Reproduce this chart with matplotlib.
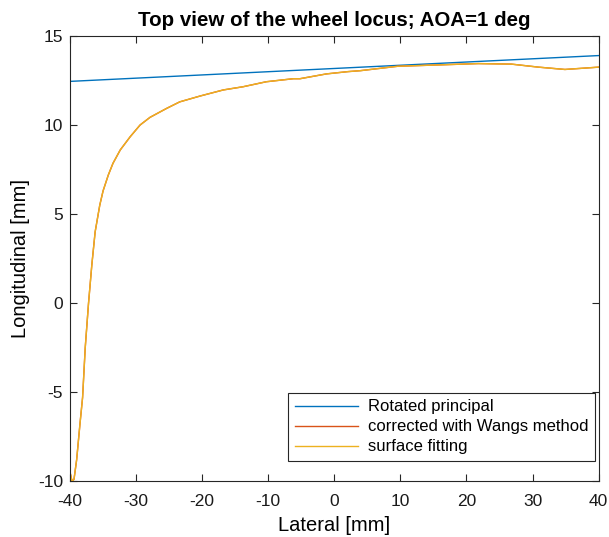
import matplotlib
matplotlib.use("Agg")
import matplotlib.pyplot as plt

plt.rcParams['font.family'] = ['Liberation Sans', 'DejaVu Sans']
plt.rcParams['axes.unicode_minus'] = False

# Rotated principal (straight line)
rot_x = [-40, 40]
rot_y = [12.45, 13.9]

# Corrected (Wang) / surface fitting curves (nearly identical)
cur_x = [-40.0, -39.7, -39.4, -39.0, -38.5, -38.1, -37.7, -37.2, -36.7, -36.2,
         -35.5, -35.0, -34.2, -33.5, -32.4, -30.9, -29.4, -27.9, -25.4, -23.4,
         -20.3, -16.8, -13.8, -10.3, -6.2, -5.2, -1.2, 2.1, 3.9, 9.6,
         16.2, 21.8, 26.8, 30.9, 34.9, 40.0]
cur_y = [-9.5, -10.0, -9.9, -8.8, -6.8, -5.3, -2.5, 0.0, 2.15, 4.0,
         5.5, 6.3, 7.2, 7.85, 8.6, 9.34, 10.0, 10.43, 10.93, 11.3,
         11.63, 11.97, 12.15, 12.43, 12.6, 12.6, 12.87, 13.0, 13.05, 13.3,
         13.38, 13.45, 13.42, 13.25, 13.12, 13.25]

fig = plt.figure(figsize=(6.09, 5.37), dpi=100)
ax = fig.add_axes([0.115, 0.104, 0.868, 0.829])

ax.plot(rot_x, rot_y, color='#0072BD', lw=1.0, label='Rotated principal')
ax.plot(cur_x, cur_y, color='#D95319', lw=1.0, label='corrected with Wangs method')
ax.plot(cur_x, cur_y, color='#EDB120', lw=1.0, label='surface fitting')

ax.set_xlim(-40, 40)
ax.set_ylim(-10, 15)
ax.set_xticks(range(-40, 41, 10))
ax.set_yticks(range(-10, 16, 5))
ax.tick_params(direction='in', top=True, right=True, length=5, width=0.8,
               labelsize=12.5, colors='#262626', labelcolor='#1a1a1a', pad=5)
ax.tick_params(axis='x', pad=9)
for s in ax.spines.values():
    s.set_color('#262626')
    s.set_linewidth(0.8)

ax.set_xlabel('Lateral [mm]', fontsize=14.5, labelpad=5)
ax.set_ylabel('Longitudinal [mm]', fontsize=14.5, labelpad=6)
ax.set_title('Top view of the wheel locus; AOA=1 deg', fontsize=14.8,
             fontweight='bold', pad=7)

leg = ax.legend(loc='lower right', bbox_to_anchor=(0.9934, 0.045), fontsize=12,
                fancybox=False, framealpha=1, edgecolor='#262626',
                borderaxespad=0, handlelength=3.8, handletextpad=0.6,
                labelspacing=0.3, borderpad=0.4)
leg.get_frame().set_linewidth(0.8)

fig.savefig('out.png', dpi=100)
